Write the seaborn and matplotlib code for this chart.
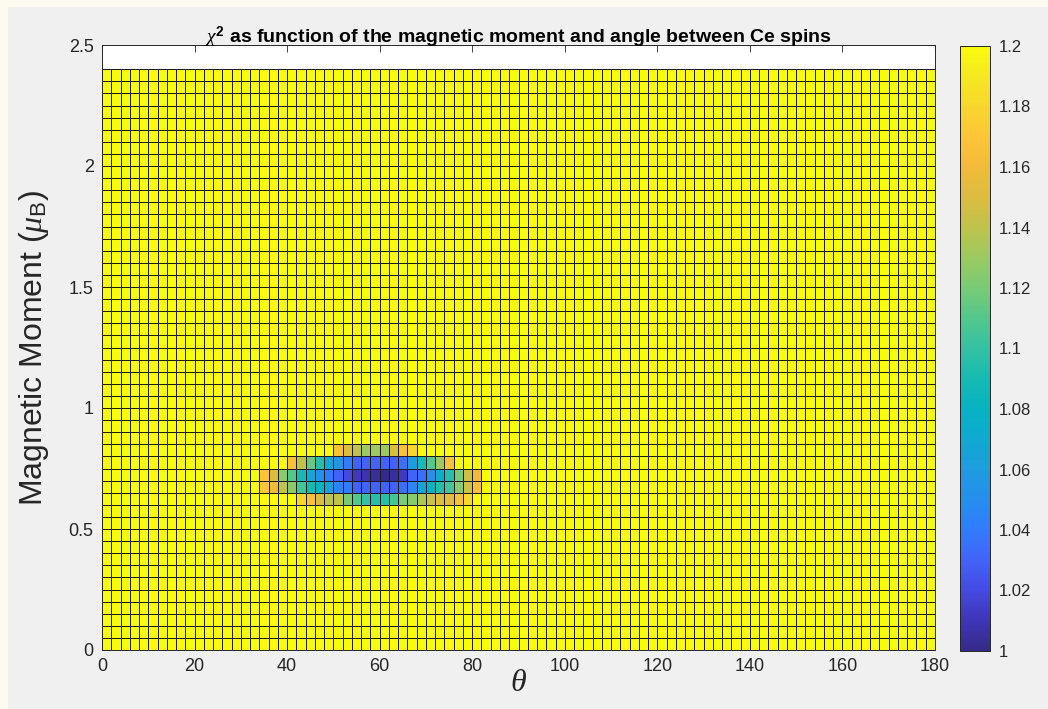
import numpy as np
import pandas as pd
import matplotlib
matplotlib.use("Agg")
import matplotlib.pyplot as plt
import seaborn as sns
from matplotlib.colors import LinearSegmentedColormap
from matplotlib.patches import Rectangle

# ---------------- data ----------------
theta_step = 2          # degrees per cell
mu_step = 0.05          # mu_B per cell
theta_max = 180
mu_max_data = 2.4
background_chi2 = 1.3   # everything outside the valley is above the colour limit (yellow)

x_ticks = [0, 20, 40, 60, 80, 100, 120, 140, 160, 180]
y_ticks = [0, 0.5, 1, 1.5, 2, 2.5]
y_tick_labels = ["0", "0.5", "1", "1.5", "2", "2.5"]
cbar_ticks = [1, 1.02, 1.04, 1.06, 1.08, 1.1, 1.12, 1.14, 1.16, 1.18, 1.2]
cbar_labels = ["1", "1.02", "1.04", "1.06", "1.08", "1.1", "1.12", "1.14", "1.16", "1.18", "1.2"]

# columns of the valley (theta at the left edge of each cell)
blob_theta = [34, 36, 38, 40, 42, 44, 46, 48, 50, 52, 54, 56, 58,
              60, 62, 64, 66, 68, 70, 72, 74, 76, 78, 80, 82]
Y = 1.3
chi2_mu080 = [Y, Y, Y, Y, Y, Y, Y, Y, 1.165, 1.15, 1.14, 1.13, 1.13,
              1.13, 1.15, 1.165, 1.18, Y, Y, Y, Y, Y, Y, Y, Y]
chi2_mu075 = [Y, Y, Y, 1.165, 1.14, 1.115, 1.095, 1.07, 1.055, 1.04, 1.03, 1.03, 1.03,
              1.03, 1.03, 1.035, 1.06, 1.09, 1.11, 1.13, 1.165, Y, Y, Y, Y]
chi2_mu070 = [1.17, 1.15, 1.125, 1.11, 1.09, 1.07, 1.05, 1.04, 1.03, 1.02, 1.012, 1.008, 1.004,
              1.0, 1.004, 1.012, 1.03, 1.035, 1.05, 1.075, 1.095, 1.12, 1.145, 1.16, Y]
chi2_mu065 = [1.17, 1.16, 1.14, 1.125, 1.105, 1.09, 1.08, 1.065, 1.045, 1.04, 1.03, 1.03, 1.03,
              1.03, 1.03, 1.035, 1.045, 1.065, 1.08, 1.095, 1.105, 1.125, 1.145, 1.165, Y]
chi2_mu060 = [Y, Y, Y, Y, 1.18, 1.165, 1.15, 1.14, 1.14, 1.12, 1.11, 1.10, 1.095,
              1.095, 1.105, 1.12, 1.125, 1.135, 1.145, 1.15, 1.155, 1.165, 1.18, Y, Y]
blob_mu = [0.60, 0.65, 0.70, 0.75, 0.80]
blob_rows = [chi2_mu060, chi2_mu065, chi2_mu070, chi2_mu075, chi2_mu080]

n_theta = int(round(theta_max / theta_step))
n_mu = int(round(mu_max_data / mu_step))
Z = np.full((n_mu, n_theta), background_chi2)
for mu, row in zip(blob_mu, blob_rows):
    i = int(round(mu / mu_step))
    for th, v in zip(blob_theta, row):
        Z[i, int(round(th / theta_step))] = v
df = pd.DataFrame(Z)

# ---------------- style ----------------
parula_anchors = [
    (0.00, (0.2081, 0.1663, 0.5292)),
    (0.05, (0.2470, 0.2090, 0.7240)),
    (0.10, (0.2691, 0.2917, 0.8907)),
    (0.15, (0.2595, 0.3915, 0.9774)),
    (0.20, (0.1920, 0.4870, 0.9900)),
    (0.25, (0.1500, 0.5560, 0.9300)),
    (0.30, (0.1150, 0.6160, 0.8700)),
    (0.35, (0.0600, 0.6650, 0.8200)),
    (0.40, (0.0250, 0.7000, 0.7650)),
    (0.45, (0.0880, 0.7300, 0.7000)),
    (0.50, (0.2000, 0.7580, 0.6380)),
    (0.55, (0.3300, 0.7800, 0.5500)),
    (0.60, (0.4700, 0.7960, 0.4630)),
    (0.65, (0.6100, 0.7900, 0.3800)),
    (0.70, (0.7450, 0.7650, 0.3000)),
    (0.75, (0.8600, 0.7400, 0.2500)),
    (0.80, (0.9500, 0.7300, 0.2300)),
    (0.85, (0.9950, 0.7700, 0.2200)),
    (0.90, (0.9700, 0.8400, 0.1800)),
    (0.95, (0.9600, 0.9100, 0.1300)),
    (1.00, (0.9763, 0.9831, 0.0538)),
]
parula = LinearSegmentedColormap.from_list("parula", parula_anchors, N=256)

sns.set_style("white")
plt.rcParams["font.family"] = ["Liberation Sans", "DejaVu Sans"]
plt.rcParams["mathtext.fontset"] = "custom"
plt.rcParams["mathtext.rm"] = "Liberation Sans"
plt.rcParams["mathtext.it"] = "Liberation Serif:italic"
plt.rcParams["mathtext.bf"] = "Liberation Sans:bold"
axis_color = "#262626"

fig = plt.figure(figsize=(10.48, 7.09), dpi=100)
fig.patch.set_facecolor("#f0f0f0")
fig.patches.append(Rectangle((0, 0), 8 / 1048, 1, transform=fig.transFigure,
                             facecolor="#fdfaf0", edgecolor="none", zorder=-1))
fig.patches.append(Rectangle((0, 1 - 7 / 709), 1, 7 / 709, transform=fig.transFigure,
                             facecolor="#fdfaf0", edgecolor="none", zorder=-1))

ax = fig.add_axes([102 / 1048, 59 / 709, 833 / 1048, 605 / 709])
cax = fig.add_axes([960 / 1048, 58 / 709, 30 / 1048, 605 / 709])

sns.heatmap(df, ax=ax, cbar_ax=cax, cmap=parula, vmin=1.0, vmax=1.2,
            linewidths=0.7, linecolor="#1c1c1c",
            xticklabels=False, yticklabels=False,
            cbar_kws={"ticks": cbar_ticks})

ax.set_facecolor("white")
ax.set_xlim(0, theta_max / theta_step)
ax.set_ylim(0, 2.5 / mu_step)
ax.set_xticks([t / theta_step for t in x_ticks])
ax.set_xticklabels([str(t) for t in x_ticks])
ax.set_yticks([t / mu_step for t in y_ticks])
ax.set_yticklabels(y_tick_labels)
for s in ax.spines.values():
    s.set_visible(True)
    s.set_color(axis_color)
    s.set_linewidth(0.7)
ax.tick_params(axis="both", direction="in", length=5, width=0.6,
               colors=axis_color, labelsize=13, top=True, right=True,
               labelcolor=axis_color, pad=6)

ax.set_xlabel(r"$\theta$", fontsize=23, color=axis_color, labelpad=-5)
ax.set_ylabel(r"Magnetic Moment ($\mu_{\mathrm{B}}$)", fontsize=23,
              color=axis_color, labelpad=13)
ax.set_title(r"$\chi^{\mathbf{2}}$ as function of the magnetic moment and angle between Ce spins",
             fontsize=14, fontweight="bold", color="black", pad=1.5)

cbar = ax.collections[0].colorbar
cbar.outline.set_visible(True)
cbar.outline.set_linewidth(0.7)
cbar.outline.set_edgecolor(axis_color)
cbar.set_ticks(cbar_ticks)
cbar.set_ticklabels(cbar_labels)
cbar.ax.tick_params(direction="in", length=4, width=0.6, colors=axis_color,
                    labelsize=12, labelcolor=axis_color, pad=6)

fig.savefig("out.png", dpi=100, facecolor=fig.get_facecolor())
